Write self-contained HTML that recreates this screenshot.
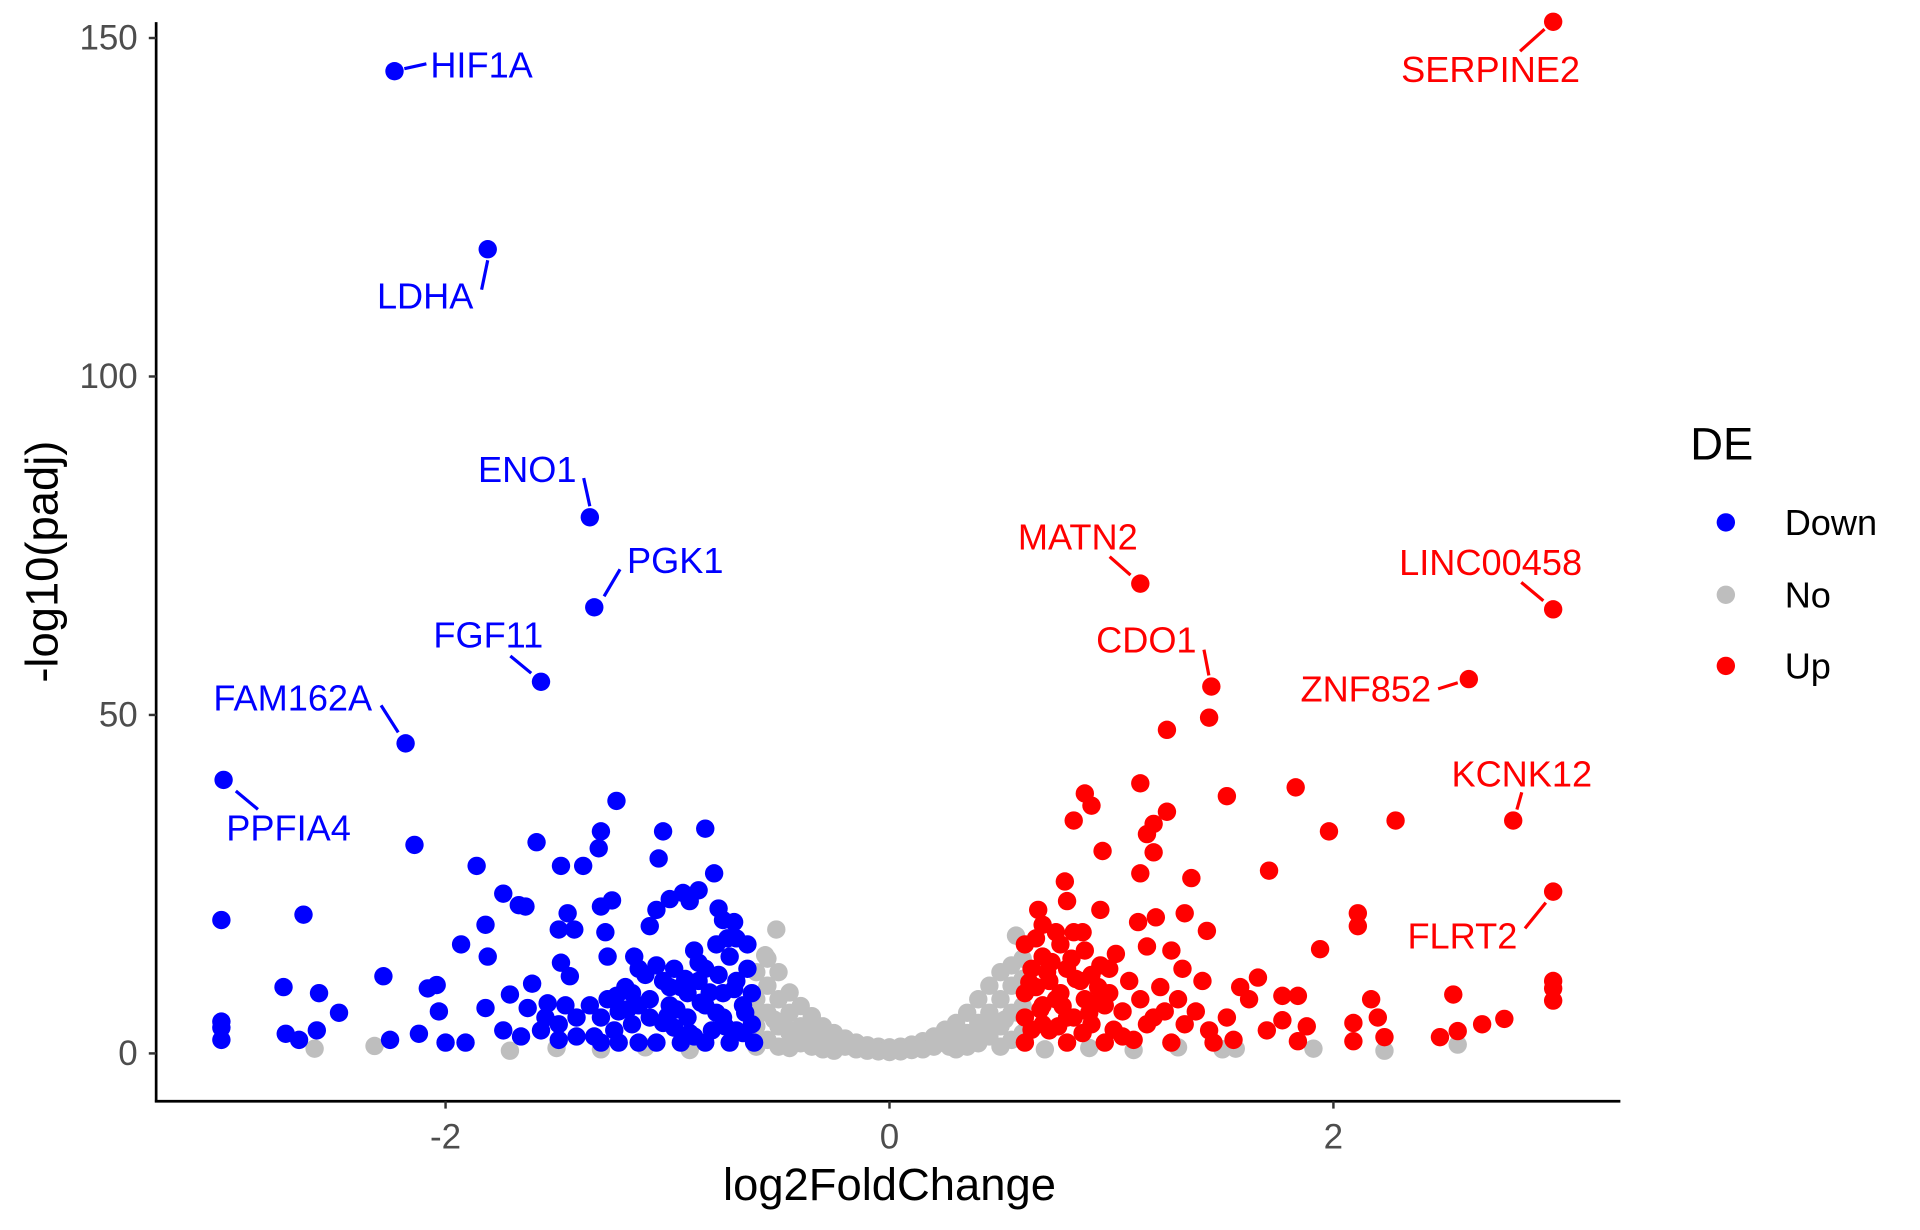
<!DOCTYPE html>
<html>
<head>
<meta charset="utf-8">
<style>
  html,body{margin:0;padding:0;background:#fff;}
  svg{display:block;font-family:"Liberation Sans",Arial,sans-serif;}
</style>
</head>
<body>
<svg id="chart" xmlns="http://www.w3.org/2000/svg" width="1920" height="1230" viewBox="0 0 1565 1003">
  <rect x="0" y="0" width="1565" height="1003" fill="#fff"/>
  <g id="gray"></g>
  <g id="blue"></g>
  <g id="red"></g>
  <g id="labels"></g>
  <g id="axes"></g>
  <text x="725" y="966" text-anchor="middle" dominant-baseline="central" font-size="37" fill="#000">log2FoldChange</text>
  <text transform="translate(34,458) rotate(-90)" text-anchor="middle" dominant-baseline="central" font-size="37" fill="#000">-log10(padj)</text>
  <g>
    <text x="1378" y="362" dominant-baseline="central" font-size="37" fill="#000">DE</text>
    <g>
      <circle cx="1407" cy="426" r="7.5" fill="#0000FF"/>
      <text x="1455" y="426" dominant-baseline="central" font-size="29.5">Down</text>
    </g>
    <g>
      <circle cx="1407" cy="485" r="7.5" fill="#BEBEBE"/>
      <text x="1455" y="485" dominant-baseline="central" font-size="29.5">No</text>
    </g>
    <g>
      <circle cx="1407" cy="543" r="7.5" fill="#FF0000"/>
      <text x="1455" y="543" dominant-baseline="central" font-size="29.5">Up</text>
    </g>
  </g>
</svg>
<script>
// ---- data ----
const xTicks = [-2, 0, 2];
const yTicks = [0, 50, 100, 150];
const grayX = [-0.60,-0.60,-0.60,-0.60,-0.56,-0.55,-0.55,-0.55,-0.55,-0.51,-0.50,-0.50,-0.50,-0.50,-0.45,-0.45,-0.45,-0.45,-0.40,-0.40,-0.40,-0.35,-0.35,-0.35,-0.30,-0.30,-0.30,-0.25,-0.25,-0.25,-0.20,-0.20,-0.15,-0.15,-0.10,-0.10,-0.05,-0.05,0,0,0.05,0.05,0.10,0.10,0.15,0.15,0.20,0.20,0.25,0.25,0.30,0.30,0.30,0.35,0.35,0.35,0.40,0.40,0.40,0.45,0.45,0.45,0.50,0.50,0.50,0.50,0.55,0.55,0.55,0.55,0.57,0.60,0.60,0.60,0.60,-2.59,-2.32,-1.71,-1.5,-1.3,-1.1,-0.9,0.7,0.9,1.1,1.3,1.5,1.56,1.91,2.23,2.56,-0.58,-0.52,-0.47,-0.42,-0.37,-0.32,-0.27,0.27,0.32,0.37,0.42,0.47,0.52,0.58];
const grayY = [12,8,4,1,14.5,14,10,6,2,18.3,12,8,4,1,9,6,3,0.8,7,4,1.5,5.5,3,1,4,2,0.6,3,1.5,0.4,2.2,1,1.6,0.6,1.2,0.4,1,0.3,0.9,0.2,1,0.3,1.3,0.5,1.8,0.6,2.5,1,3.5,1.5,4.5,2,0.6,6,3,1,8,4.5,1.5,10,6,2.5,12,8,4,1,13,10,6,2,17.4,14,11,7,3,0.7,1.1,0.4,0.8,0.6,0.9,0.5,0.6,0.8,0.5,0.9,0.6,0.7,0.7,0.4,1.3,6,5,4,3,2,1.5,1,1,1.5,2,3,4,5,6];
const downX = [-2.23,-1.81,-1.35,-1.33,-1.57,-2.18,-3.0,-3.01,-3.01,-3.01,-3.01,-2.73,-2.72,-2.66,-2.64,-2.57,-2.58,-2.48,-2.28,-2.25,-2.14,-2.12,-2.08,-2.04,-2.03,-2.00,-1.93,-1.91,-1.86,-1.82,-1.81,-1.82,-1.74,-1.71,-1.67,-1.64,-1.61,-1.59,-1.54,-1.49,-1.48,-1.48,-1.45,-1.44,-1.42,-1.38,-1.31,-1.30,-1.30,-1.28,-1.25,-1.27,-1.23,-1.23,-1.15,-1.08,-1.05,-1.04,-1.02,-0.99,-0.93,-0.90,-0.86,-0.83,-0.79,-0.77,-0.75,-0.70,-0.78,-0.88,-0.97,-1.02,-1.10,-1.19,-1.27,-1.35,-1.41,-1.49,-1.57,-1.66,-1.74,-1.05,-0.94,-0.83,-0.72,-0.61,-0.69,-0.64,-0.66,-0.75,-0.83,-0.91,-0.99,-1.08,-1.16,-1.24,-1.33,-0.72,-0.77,-0.86,-0.94,-0.69,-0.62,-0.62,-0.80,-0.88,-0.97,-1.13,-1.22,-1.30,-1.46,-1.55,-1.63,-1.13,-1.22,-1.30,-1.41,-1.49,-0.75,-0.83,-0.91,-0.99,-1.08,-0.69,-0.64,-0.73,-0.86,-1.13,-1.16,-0.65,-0.70,-0.78,-0.85,-0.92,-1.00,-1.05,-1.18,-0.66,-0.74,-0.81,-0.90,-0.96,-1.02];
const downY = [145.1,118.8,79.2,65.9,54.9,45.8,40.4,19.7,4.7,3.8,2.0,9.8,2.9,2.0,20.5,8.9,3.4,6.0,11.4,2.0,30.8,2.9,9.6,10.1,6.2,1.6,16.1,1.6,27.7,19.0,14.3,6.7,23.6,8.7,21.9,21.7,10.3,31.2,7.4,18.3,13.4,27.7,20.7,11.4,18.3,27.7,30.3,32.8,21.7,17.9,22.6,14.3,37.3,8.5,14.3,18.8,21.2,28.8,32.8,22.8,23.7,22.5,24.1,33.2,26.6,21.4,19.7,19.4,16.1,15.2,12.5,10.7,11.6,9.8,8.0,7.1,5.3,4.3,3.4,2.5,3.4,1.6,1.6,1.6,1.6,1.6,10.7,12.5,7.1,5.3,7.1,5.3,7.1,5.3,4.3,3.4,2.5,14.3,11.6,10.7,9.8,17.0,8.9,4.3,3.4,2.5,3.8,7.1,6.2,5.3,7.1,5.3,6.7,1.6,1.6,1.6,2.5,2.0,8.9,12.5,8.9,9.8,8.0,3.4,16.1,17.0,13.4,12.5,8.9,6.0,9.5,6.0,7.5,11.0,5.5,13.0,6.5,3.0,4.0,9.0,3.0,6.5,4.5];
const upX = [2.99,1.13,2.99,1.45,2.61,2.81,2.99,1.25,1.44,1.13,0.88,0.91,0.83,1.25,1.19,1.16,1.52,1.83,2.28,1.98,0.96,1.19,1.71,1.13,1.36,0.79,0.80,0.67,0.95,1.33,1.20,1.12,0.69,1.43,2.11,2.11,1.94,0.87,1.02,1.16,1.27,1.32,1.41,1.58,1.66,1.62,1.77,1.84,2.17,2.54,2.99,2.99,2.99,1.77,1.88,2.09,2.20,2.77,2.67,2.56,2.48,2.23,2.09,1.84,1.70,0.61,0.64,0.61,0.61,0.61,0.69,0.72,0.69,0.72,0.77,0.80,0.77,0.80,0.80,0.88,0.91,0.88,0.91,0.97,0.99,0.99,1.05,1.08,1.13,1.16,1.22,1.24,1.30,1.33,1.38,1.44,1.52,1.55,1.46,1.27,1.10,0.66,0.75,0.83,0.86,0.97,1.05,1.19,0.69,0.66,0.75,0.83,0.94,0.63,0.68,0.73,0.78,0.84,0.90,0.95,1.01,0.64,0.71,0.76,0.82,0.87,0.93];
const upY = [152.4,69.4,65.6,54.2,55.3,34.4,23.9,47.8,49.6,39.9,38.4,36.6,34.4,35.7,33.9,32.4,38.0,39.3,34.4,32.8,29.9,29.7,27.0,26.6,25.9,25.4,22.5,21.2,21.2,20.7,20.1,19.4,19.0,18.1,20.7,18.8,15.4,17.9,14.7,15.8,15.2,12.5,10.7,9.8,11.2,8.0,8.5,8.5,8.0,8.7,10.7,9.6,7.8,4.9,4.0,4.5,5.3,5.1,4.3,3.3,2.4,2.4,1.8,1.8,3.4,16.1,12.5,8.9,5.3,1.6,14.3,10.7,7.1,3.4,16.1,12.5,8.9,5.3,1.6,15.2,11.6,8.0,4.3,1.6,12.5,8.9,6.2,10.7,8.0,4.3,9.8,6.2,8.0,4.3,6.2,3.4,5.3,2.0,1.6,1.6,2.0,17.0,17.9,17.9,10.7,7.1,2.5,5.3,4.3,9.8,8.0,5.3,9.8,10.5,6.5,13.5,7.0,11.0,6.0,13.0,3.5,3.5,12.0,4.0,14.0,3.0,7.5];
const geneNames = ["HIF1A","LDHA","ENO1","PGK1","FGF11","FAM162A","PPFIA4","SERPINE2","MATN2","LINC00458","CDO1","ZNF852","KCNK12","FLRT2"];
const geneX = [-2.23,-1.81,-1.35,-1.33,-1.57,-2.18,-3.0,2.99,1.13,2.99,1.45,2.61,2.81,2.99];
const geneY = [145.1,118.8,79.2,65.9,54.9,45.8,40.4,152.4,69.4,65.6,54.2,55.3,34.4,23.9];
// label placement offsets (style, relative to point): text dx,dy; segment start/end dx,dy
const labelOff = [
  [71,-5, 8,-2, 26,-6],[-51,38, -5,33, 0,9],[-51,-39, -5,-32, 0,-9],[66,-38, 21,-31, 8,-9],[-43,-38, -25,-21, -8,-7],
  [-92,-37, -20,-31, -6,-9],[53,39, 10,9, 28,24],[-51,39, -27,24, -7,6],[-51,-38, -25,-22, -8,-7],[-51,-38, -26,-22, -8,-7],
  [-53,-38, -6,-30, -2,-9],[-84,8, -25,8, -9,3],[7,-38, 7,-23, 3,-9],[-74,36, -23,30, -6,9]
];
const blueC = "#0000FF", redC = "#FF0000", grayC = "#BEBEBE";

// ---- scales ----
function sx(v){ return 725 + 181*v; }
function sy(v){ return 859 - 5.52*v; }
const NS = "http://www.w3.org/2000/svg";
function mk(tag, attrs, parent){
  const e = document.createElementNS(NS, tag);
  for (const k in attrs) e.setAttribute(k, attrs[k]);
  parent.appendChild(e);
  return e;
}
function drawPts(xs, ys, color, gid, nm){
  const g = document.getElementById(gid);
  for (let i=0;i<xs.length;i++){
    const c = mk("circle", {cx:sx(xs[i]), cy:sy(ys[i]), r:7.5, fill:color}, g);
    
    
  }
}
drawPts(grayX, grayY, grayC, "gray", "point-no");
drawPts(downX, downY, blueC, "blue", "point-down");
drawPts(upX, upY, redC, "red", "point-up");

// labels
const lg = document.getElementById("labels");
for (let i=0;i<geneNames.length;i++){
  const px = sx(geneX[i]), py = sy(geneY[i]);
  const o = labelOff[i];
  const col = geneX[i] < 0 ? blueC : redC;
  const ln = mk("line", {x1:px+o[2], y1:py+o[3], x2:px+o[4], y2:py+o[5], stroke:col, "stroke-width":2.6}, lg);
  
  
  const t = mk("text", {x:px+o[0], y:py+o[1], "text-anchor":"middle", "dominant-baseline":"central", "font-size":29.5, fill:col}, lg);
  t.textContent = geneNames[i];
  
  
}

// axes
const ax = document.getElementById("axes");
const yl = mk("line", {x1:127, y1:18, x2:127, y2:899, stroke:"#000", "stroke-width":2.2}, ax);


const xl = mk("line", {x1:126, y1:898, x2:1321, y2:898, stroke:"#000", "stroke-width":2.2}, ax);


for (const v of yTicks){
  const y = sy(v);
  const tk = mk("line", {x1:121, y1:y, x2:127, y2:y, stroke:"#333", "stroke-width":2}, ax);
  
  
  const t = mk("text", {x:112, y:y, "text-anchor":"end", "dominant-baseline":"central", "font-size":28.5, fill:"#4d4d4d"}, ax);
  t.textContent = v;
  
  
}
for (const v of xTicks){
  const x = sx(v);
  const tk = mk("line", {x1:x, y1:898, x2:x, y2:904, stroke:"#333", "stroke-width":2}, ax);
  
  
  const t = mk("text", {x:x, y:927, "text-anchor":"middle", "dominant-baseline":"central", "font-size":28.5, fill:"#4d4d4d"}, ax);
  t.textContent = v;
  
  
}
</script>
</body>
</html>
